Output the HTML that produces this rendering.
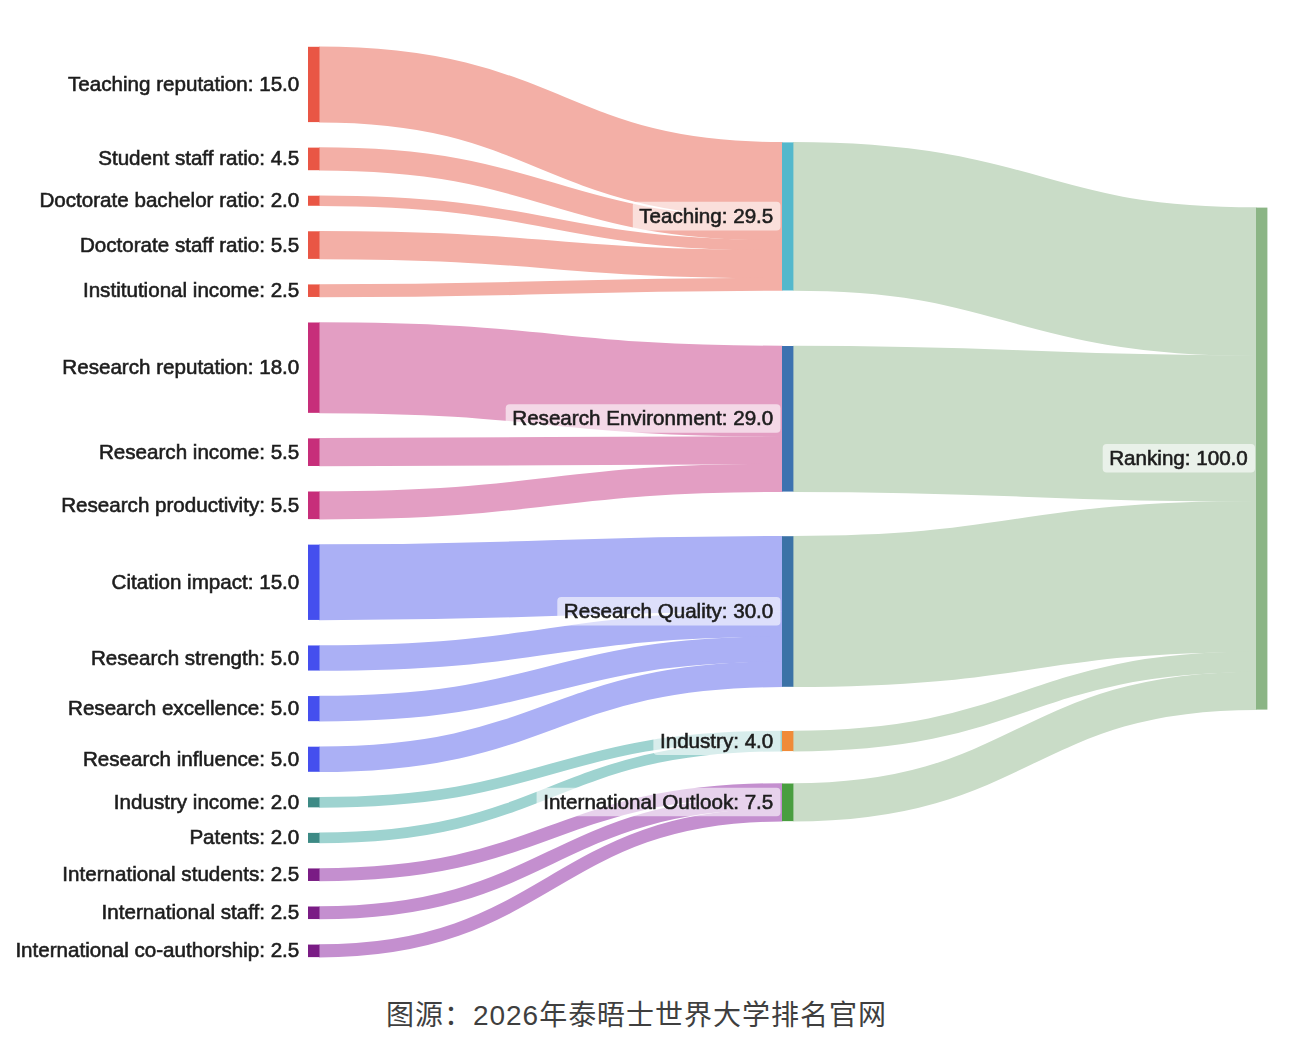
<!DOCTYPE html>
<html><head><meta charset="utf-8"><title>Sankey</title>
<style>
html,body{margin:0;padding:0;background:#fff;}
body{width:1294px;height:1050px;overflow:hidden;}
svg{display:block;}
text{font-family:"Liberation Sans",sans-serif;font-size:20.6px;fill:#1e1e1e;stroke:#1e1e1e;stroke-width:0.6px;}
</style></head><body>
<svg width="1294" height="1050" viewBox="0 0 1294 1050">
<defs><filter id="soft" x="0" y="0" width="1294" height="1050" filterUnits="userSpaceOnUse"><feGaussianBlur stdDeviation="0.6"/></filter></defs>
<rect width="1294" height="1050" fill="#fff"/>
<g filter="url(#soft)">
<rect width="1294" height="1050" fill="#fff"/>
<g id="links">
<path d="M319.0,84.45C550.8,84.45 550.8,180.05 782.5,180.05" fill="none" stroke="#F3AFA6" stroke-width="75.90"/>
<path d="M319.0,158.92C550.8,158.92 550.8,229.00 782.5,229.00" fill="none" stroke="#F3AFA6" stroke-width="23.19"/>
<path d="M319.0,200.75C550.8,200.75 550.8,245.31 782.5,245.31" fill="none" stroke="#F3AFA6" stroke-width="10.64"/>
<path d="M319.0,245.10C550.8,245.10 550.8,264.13 782.5,264.13" fill="none" stroke="#F3AFA6" stroke-width="28.21"/>
<path d="M319.0,290.70C550.8,290.70 550.8,284.22 782.5,284.22" fill="none" stroke="#F3AFA6" stroke-width="13.15"/>
<path d="M319.0,367.67C550.8,367.67 550.8,391.18 782.5,391.18" fill="none" stroke="#E39EC3" stroke-width="90.96"/>
<path d="M319.0,452.18C550.8,452.18 550.8,450.17 782.5,450.17" fill="none" stroke="#E39EC3" stroke-width="28.21"/>
<path d="M319.0,505.31C550.8,505.31 550.8,477.78 782.5,477.78" fill="none" stroke="#E39EC3" stroke-width="28.21"/>
<path d="M319.0,582.28C550.8,582.28 550.8,573.85 782.5,573.85" fill="none" stroke="#ABB0F5" stroke-width="75.90"/>
<path d="M319.0,658.00C550.8,658.00 550.8,624.05 782.5,624.05" fill="none" stroke="#ABB0F5" stroke-width="25.70"/>
<path d="M319.0,708.62C550.8,708.62 550.8,649.15 782.5,649.15" fill="none" stroke="#ABB0F5" stroke-width="25.70"/>
<path d="M319.0,759.24C550.8,759.24 550.8,674.25 782.5,674.25" fill="none" stroke="#ABB0F5" stroke-width="25.70"/>
<path d="M319.0,802.33C550.8,802.33 550.8,736.02 782.5,736.02" fill="none" stroke="#9ED3D0" stroke-width="10.64"/>
<path d="M319.0,837.89C550.8,837.89 550.8,746.06 782.5,746.06" fill="none" stroke="#9ED3D0" stroke-width="10.64"/>
<path d="M319.0,874.71C550.8,874.71 550.8,789.77 782.5,789.77" fill="none" stroke="#C48FCF" stroke-width="13.15"/>
<path d="M319.0,912.78C550.8,912.78 550.8,802.32 782.5,802.32" fill="none" stroke="#C48FCF" stroke-width="13.15"/>
<path d="M319.0,950.85C550.8,950.85 550.8,814.87 782.5,814.87" fill="none" stroke="#C48FCF" stroke-width="13.15"/>
<path d="M792.9,216.44C1024.7,216.44 1024.7,281.64 1256.5,281.64" fill="none" stroke="#C9DCC7" stroke-width="148.69"/>
<path d="M792.9,418.79C1024.7,418.79 1024.7,428.48 1256.5,428.48" fill="none" stroke="#C9DCC7" stroke-width="146.18"/>
<path d="M792.9,611.50C1024.7,611.50 1024.7,576.57 1256.5,576.57" fill="none" stroke="#C9DCC7" stroke-width="151.20"/>
<path d="M792.9,741.04C1024.7,741.04 1024.7,661.91 1256.5,661.91" fill="none" stroke="#C9DCC7" stroke-width="20.68"/>
<path d="M792.9,802.33C1024.7,802.33 1024.7,690.77 1256.5,690.77" fill="none" stroke="#C9DCC7" stroke-width="38.25"/>
</g>
<g id="nodes" shape-rendering="auto">
<rect x="308.0" y="46.80" width="11.5" height="75.30" fill="#E95744"/>
<rect x="308.0" y="147.62" width="11.5" height="22.59" fill="#E95744"/>
<rect x="308.0" y="195.73" width="11.5" height="10.04" fill="#E95744"/>
<rect x="308.0" y="231.29" width="11.5" height="27.61" fill="#E95744"/>
<rect x="308.0" y="284.42" width="11.5" height="12.55" fill="#E95744"/>
<rect x="308.0" y="322.49" width="11.5" height="90.36" fill="#C72F7A"/>
<rect x="308.0" y="438.37" width="11.5" height="27.61" fill="#C72F7A"/>
<rect x="308.0" y="491.50" width="11.5" height="27.61" fill="#C72F7A"/>
<rect x="308.0" y="544.63" width="11.5" height="75.30" fill="#4450EE"/>
<rect x="308.0" y="645.45" width="11.5" height="25.10" fill="#4450EE"/>
<rect x="308.0" y="696.07" width="11.5" height="25.10" fill="#4450EE"/>
<rect x="308.0" y="746.69" width="11.5" height="25.10" fill="#4450EE"/>
<rect x="308.0" y="797.31" width="11.5" height="10.04" fill="#3D8A85"/>
<rect x="308.0" y="832.87" width="11.5" height="10.04" fill="#3D8A85"/>
<rect x="308.0" y="868.43" width="11.5" height="12.55" fill="#7A1F85"/>
<rect x="308.0" y="906.50" width="11.5" height="12.55" fill="#7A1F85"/>
<rect x="308.0" y="944.57" width="11.5" height="12.55" fill="#7A1F85"/>
<rect x="782.0" y="142.40" width="11.399999999999977" height="148.09" fill="#53B8CC"/>
<rect x="782.0" y="346.00" width="11.399999999999977" height="145.58" fill="#3D72B0"/>
<rect x="782.0" y="536.20" width="11.399999999999977" height="150.60" fill="#3A72A6"/>
<rect x="782.0" y="731.00" width="11.399999999999977" height="20.08" fill="#F08B38"/>
<rect x="782.0" y="783.50" width="11.399999999999977" height="37.65" fill="#4A9E3F"/>
<rect x="1256.0" y="207.60" width="11.400000000000091" height="502.00" fill="#8BB585"/>
</g>
<g id="labels">
<rect x="61.5" y="69.8" width="245.0" height="28.6" rx="4" fill="#fff" fill-opacity="0.6"/>
<text x="299.3" y="90.9" text-anchor="end">Teaching reputation: 15.0</text>
<rect x="91.6" y="144.3" width="214.9" height="28.6" rx="4" fill="#fff" fill-opacity="0.6"/>
<text x="299.3" y="165.4" text-anchor="end">Student staff ratio: 4.5</text>
<rect x="32.9" y="186.2" width="273.6" height="28.6" rx="4" fill="#fff" fill-opacity="0.6"/>
<text x="299.3" y="207.3" text-anchor="end">Doctorate bachelor ratio: 2.0</text>
<rect x="73.3" y="230.5" width="233.2" height="28.6" rx="4" fill="#fff" fill-opacity="0.6"/>
<text x="299.3" y="251.6" text-anchor="end">Doctorate staff ratio: 5.5</text>
<rect x="76.4" y="276.1" width="230.1" height="28.6" rx="4" fill="#fff" fill-opacity="0.6"/>
<text x="299.3" y="297.2" text-anchor="end">Institutional income: 2.5</text>
<rect x="55.7" y="353.1" width="250.8" height="28.6" rx="4" fill="#fff" fill-opacity="0.6"/>
<text x="299.3" y="374.2" text-anchor="end">Research reputation: 18.0</text>
<rect x="92.4" y="437.6" width="214.1" height="28.6" rx="4" fill="#fff" fill-opacity="0.6"/>
<text x="299.3" y="458.7" text-anchor="end">Research income: 5.5</text>
<rect x="54.6" y="490.7" width="251.9" height="28.6" rx="4" fill="#fff" fill-opacity="0.6"/>
<text x="299.3" y="511.8" text-anchor="end">Research productivity: 5.5</text>
<rect x="105.0" y="567.7" width="201.5" height="28.6" rx="4" fill="#fff" fill-opacity="0.6"/>
<text x="299.3" y="588.8" text-anchor="end">Citation impact: 15.0</text>
<rect x="84.4" y="643.4" width="222.1" height="28.6" rx="4" fill="#fff" fill-opacity="0.6"/>
<text x="299.3" y="664.5" text-anchor="end">Research strength: 5.0</text>
<rect x="61.5" y="694.0" width="245.0" height="28.6" rx="4" fill="#fff" fill-opacity="0.6"/>
<text x="299.3" y="715.1" text-anchor="end">Research excellence: 5.0</text>
<rect x="76.4" y="744.6" width="230.1" height="28.6" rx="4" fill="#fff" fill-opacity="0.6"/>
<text x="299.3" y="765.7" text-anchor="end">Research influence: 5.0</text>
<rect x="107.3" y="787.7" width="199.2" height="28.6" rx="4" fill="#fff" fill-opacity="0.6"/>
<text x="299.3" y="808.8" text-anchor="end">Industry income: 2.0</text>
<rect x="182.9" y="823.3" width="123.6" height="28.6" rx="4" fill="#fff" fill-opacity="0.6"/>
<text x="299.3" y="844.4" text-anchor="end">Patents: 2.0</text>
<rect x="55.7" y="860.1" width="250.8" height="28.6" rx="4" fill="#fff" fill-opacity="0.6"/>
<text x="299.3" y="881.2" text-anchor="end">International students: 2.5</text>
<rect x="95.1" y="898.2" width="211.4" height="28.6" rx="4" fill="#fff" fill-opacity="0.6"/>
<text x="299.3" y="919.3" text-anchor="end">International staff: 2.5</text>
<rect x="8.8" y="936.2" width="297.7" height="28.6" rx="4" fill="#fff" fill-opacity="0.6"/>
<text x="299.3" y="957.3" text-anchor="end">International co-authorship: 2.5</text>
<rect x="632.8" y="201.8" width="147.7" height="28.6" rx="4" fill="#fff" fill-opacity="0.6"/>
<text x="773.3" y="222.9" text-anchor="end">Teaching: 29.5</text>
<rect x="505.7" y="404.2" width="274.8" height="28.6" rx="4" fill="#fff" fill-opacity="0.6"/>
<text x="773.3" y="425.3" text-anchor="end">Research Environment: 29.0</text>
<rect x="557.3" y="596.9" width="223.2" height="28.6" rx="4" fill="#fff" fill-opacity="0.6"/>
<text x="773.3" y="618.0" text-anchor="end">Research Quality: 30.0</text>
<rect x="653.4" y="726.4" width="127.1" height="28.6" rx="4" fill="#fff" fill-opacity="0.6"/>
<text x="773.3" y="747.5" text-anchor="end">Industry: 4.0</text>
<rect x="536.6" y="787.7" width="243.9" height="28.6" rx="4" fill="#fff" fill-opacity="0.6"/>
<text x="773.3" y="808.8" text-anchor="end">International Outlook: 7.5</text>
<rect x="1102.7" y="444.0" width="152.3" height="28.6" rx="4" fill="#fff" fill-opacity="0.6"/>
<text x="1247.8" y="465.1" text-anchor="end">Ranking: 100.0</text>
</g>
</g>
<g id="caption">
<text x="386" y="1024.7" textLength="500" lengthAdjust="spacing" style="font-family:'Liberation Sans','Noto Sans CJK SC',sans-serif;font-size:28px;fill:#3f3f3f;stroke:none;">图源：2026年泰晤士世界大学排名官网</text>
</g>
</svg>
</body></html>
